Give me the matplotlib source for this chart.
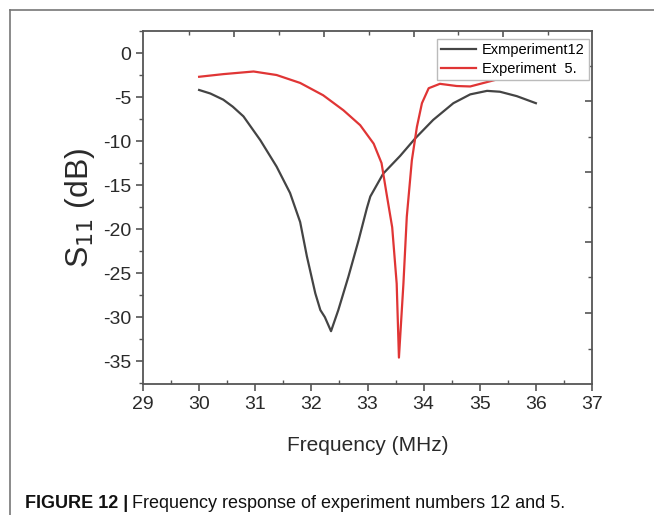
import matplotlib
matplotlib.use("Agg")
import matplotlib.pyplot as plt
from matplotlib.lines import Line2D
from matplotlib import font_manager

# Experiment 12 (black)
freq_12 = [30.0, 30.2, 30.43, 30.6, 30.79, 31.09, 31.38, 31.62, 31.8, 31.92, 32.07, 32.16,
           32.24, 32.35, 32.48, 32.66, 32.84, 32.99, 33.05, 33.28, 33.58, 33.85, 34.17,
           34.53, 34.83, 35.13, 35.36, 35.66, 36.0]
s11_12 = [-4.2, -4.6, -5.3, -6.1, -7.2, -9.9, -12.9, -15.9, -19.2, -23.1, -27.3, -29.2,
          -30.0, -31.6, -29.2, -25.4, -21.3, -17.6, -16.3, -13.7, -11.7, -9.7, -7.6,
          -5.7, -4.7, -4.3, -4.4, -4.9, -5.7]

# Experiment 5 (red)
freq_5 = [30.0, 30.43, 30.97, 31.38, 31.8, 32.21, 32.57, 32.87, 33.11, 33.25, 33.34, 33.44,
          33.52, 33.56, 33.64, 33.70, 33.79, 33.88, 33.97, 34.09, 34.29, 34.59, 34.83,
          35.07, 35.31, 35.6]
s11_5 = [-2.7, -2.4, -2.1, -2.5, -3.4, -4.8, -6.5, -8.2, -10.3, -12.5, -16.0, -19.8,
         -26.2, -34.6, -26.2, -18.6, -12.2, -8.4, -5.7, -4.0, -3.5, -3.75, -3.8,
         -3.4, -3.0, -2.4]

labels = ["Exmperiment12", "Experiment  5."]
x_ticks = [29, 30, 31, 32, 33, 34, 35, 36, 37]
y_ticks = [0, -5, -10, -15, -20, -25, -30, -35]
# odd extra ticks on the top and right frame of the original
top_major = [30.62, 32.22, 33.82, 35.42]
top_minor = [29.82, 31.42, 33.02, 34.62, 36.22]
right_major = [-5.45, -13.5, -21.5, -29.5]
right_minor = [-1.48, -9.5, -17.5, -25.5, -33.6]

names = {f.name for f in font_manager.fontManager.ttflist}
narrow = "Liberation Sans Narrow" if "Liberation Sans Narrow" in names else "Liberation Sans"
plt.rcParams['font.family'] = ['Liberation Sans', 'DejaVu Sans']

spine_col = '#555555'
text_col = '#2a2a2a'

fig = plt.figure(figsize=(6.54, 5.15), dpi=100)
ax = fig.add_axes([143 / 654, 1 - 384 / 515, 449 / 654, 353 / 515])

ax.plot(freq_12, s11_12, color='#444444', linewidth=1.6, label=labels[0])
ax.plot(freq_5, s11_5, color='#e03535', linewidth=1.6, label=labels[1])

ax.set_xlim(29, 37)
ax.set_ylim(-37.6, 2.5)
ax.set_xticks(x_ticks)
ax.set_yticks(y_ticks)
ax.set_xticks([t + 0.5 for t in x_ticks[:-1]], minor=True)
ax.set_yticks([t - 2.5 for t in y_ticks] + [2.5], minor=True)

for s in ax.spines.values():
    s.set_color(spine_col)
    s.set_linewidth(1.3)

ax.tick_params(axis='both', which='major', direction='out', length=5, width=1.2,
               colors=spine_col, labelcolor=text_col, labelsize=14,
               top=False, right=False)
ax.tick_params(axis='x', which='minor', direction='in', length=3, width=1.0,
               colors=spine_col, top=False)
ax.tick_params(axis='y', which='minor', direction='out', length=3, width=1.0,
               colors=spine_col, right=False)
ax.set_yticklabels([str(t) for t in y_ticks])

# top frame ticks
axt = ax.twiny()
axt.set_xlim(29, 37)
axt.set_xticks(top_major)
axt.set_xticks(top_minor, minor=True)
axt.tick_params(axis='x', which='major', direction='in', length=4, width=1.2,
                colors=spine_col, labeltop=False)
axt.tick_params(axis='x', which='minor', direction='in', length=3, width=1.0,
                colors=spine_col)
for s in axt.spines.values():
    s.set_visible(False)

# right frame ticks
axr = ax.twinx()
axr.set_ylim(-37.6, 2.5)
axr.set_yticks(right_major)
axr.set_yticks(right_minor, minor=True)
axr.tick_params(axis='y', which='major', direction='in', length=5, width=1.2,
                colors=spine_col, labelright=False)
axr.tick_params(axis='y', which='minor', direction='in', length=3, width=1.0,
                colors=spine_col)
for s in axr.spines.values():
    s.set_visible(False)

ax.set_xlabel('Frequency (MHz)', fontsize=15, color=text_col, labelpad=17)
ax.set_ylabel('S$_{11}$ (dB)', fontsize=23, color=text_col, labelpad=4)

leg = axr.legend(*ax.get_legend_handles_labels(), loc='upper right',
                 bbox_to_anchor=(589 / 654, 1 - 39 / 515),
                 bbox_transform=fig.transFigure, fancybox=False, framealpha=1,
                 edgecolor='#bbbbbb', prop={'family': narrow, 'size': 10.5},
                 handlelength=2.4, handletextpad=0.4, borderpad=0.3,
                 labelspacing=0.3, borderaxespad=0)
leg.get_frame().set_linewidth(1.0)

# page frame lines of the clipped figure
fig.add_artist(Line2D([10 / 654, 1], [1 - 10 / 515, 1 - 10 / 515],
                      transform=fig.transFigure, color='#777777', linewidth=1.2))
fig.add_artist(Line2D([10 / 654, 10 / 654], [0, 1 - 10 / 515],
                      transform=fig.transFigure, color='#777777', linewidth=1.2))

# caption
t = fig.text(25 / 654, 1 - 508 / 515, 'FIGURE 12 |', fontsize=13,
             fontweight='bold', color='#111111', ha='left', va='baseline')
fig.canvas.draw()
bb = t.get_window_extent()
fig.text((bb.x1 + 4) / 654, 1 - 508 / 515,
         'Frequency response of experiment numbers 12 and 5.',
         fontsize=13, color='#111111', ha='left', va='baseline')

fig.savefig('out.png', dpi=100)
